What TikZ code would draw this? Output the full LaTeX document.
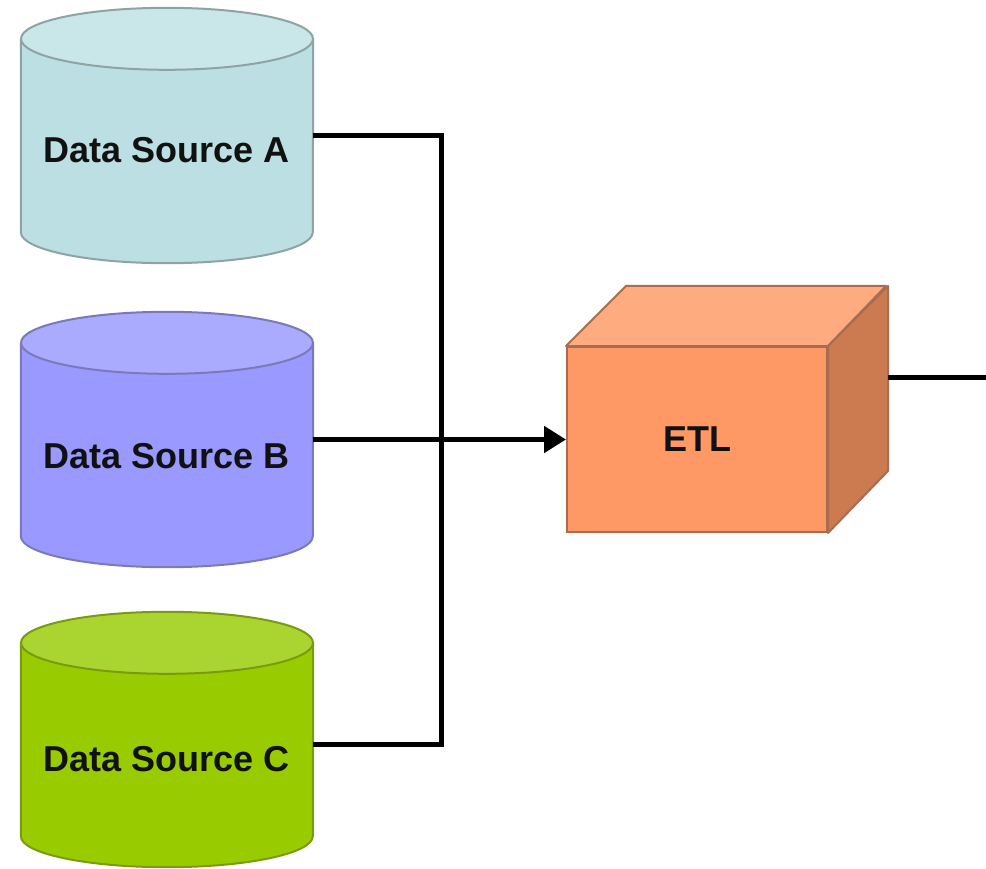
\documentclass[tikz,border=0pt]{standalone}
\usepackage{fontspec}
\setmainfont{Liberation Sans}
\usetikzlibrary{calc,arrows.meta,backgrounds}

% palette
\definecolor{cylAbody}{HTML}{BBDFE2}
\definecolor{cylAtop}{HTML}{C9E6E8}
\definecolor{cylAline}{HTML}{8FA3A4}
\definecolor{cylBbody}{HTML}{9999FF}
\definecolor{cylBtop}{HTML}{AAAAFF}
\definecolor{cylBline}{HTML}{7A7AB8}
\definecolor{cylCbody}{HTML}{99CC00}
\definecolor{cylCtop}{HTML}{AAD530}
\definecolor{cylCline}{HTML}{7A9A10}
\definecolor{etlfront}{HTML}{FE9966}
\definecolor{etltop}{HTML}{FFAB80}
\definecolor{etlside}{HTML}{CC7A50}
\definecolor{etlline}{HTML}{A86C50}
\definecolor{labeltext}{HTML}{111111}

\tikzset{
  dslabel/.style={font=\fontsize{36}{40}\selectfont\bfseries, text=labeltext,
    minimum width=292pt, minimum height=255pt, inner sep=0pt},
  etlbox/.style={font=\fontsize{36}{40}\selectfont\bfseries, text=labeltext,
    minimum width=260pt, minimum height=185pt, inner sep=0pt,
    fill=etlfront, draw=etlline, line width=2pt},
  wire/.style={line width=5pt, black, line join=miter},
}

% label text with its baseline set #1 below the node centre
\newcommand\droptext[2]{\raisebox{-#1}[0pt][0pt]{#2}}

% database cylinder behind a label node: #1 node, #2 body, #3 lid, #4 outline
\newcommand\drawdbcyl[4]{%
  \fill[#2] ($(#1.north west)+(0,31)$) -- ($(#1.south west)+(0,-31)$)
    arc[start angle=180, end angle=360, x radius=146pt, y radius=31pt]
    -- ($(#1.north east)+(0,31)$) -- cycle;
  \draw[#4, line width=2pt] ($(#1.north west)+(0,31)$) -- ($(#1.south west)+(0,-31)$)
    arc[start angle=180, end angle=360, x radius=146pt, y radius=31pt]
    -- ($(#1.north east)+(0,31)$);
  \filldraw[fill=#3, draw=#4, line width=2pt] ($(#1.north)+(0,31)$)
    ellipse[x radius=146pt, y radius=31pt];
}

\begin{document}
\begin{tikzpicture}[x=1pt, y=-1pt]
  \useasboundingbox (0,0) rectangle (986,869);

  % data sources
  \node[dslabel] (a) at (167,135.5) {\droptext{27.5pt}{Data Source A}};
  \node[dslabel] (b) at (167,439.5) {\droptext{28.5pt}{Data Source B}};
  \node[dslabel] (c) at (167,739.5) {\droptext{32pt}{Data Source C}};

  \begin{scope}[on background layer]
    \fill[white] (0,0) rectangle (986,869);
    \drawdbcyl{a}{cylAbody}{cylAtop}{cylAline}
    \drawdbcyl{b}{cylBbody}{cylBtop}{cylBline}
    \drawdbcyl{c}{cylCbody}{cylCtop}{cylCline}
  \end{scope}

  % ETL cube
  \node[etlbox] (etl) at (697,439.5) {ETL};
  \filldraw[fill=etltop, draw=etlline, line width=2pt, line join=round]
    (etl.north west) -- ++(60,-60) -- ++(260,0) -- (etl.north east) -- cycle;
  \filldraw[fill=etlside, draw=etlline, line width=2pt, line join=round]
    (etl.north east) -- ++(60,-60) -- ++(0,185) -- (etl.south east) -- cycle;

  % connectors
  \coordinate (bus) at (441,439.5);
  \coordinate (etlout) at ($(etl.east)+(60,-62)$);
  \coordinate (out) at (992,377.5);

  \draw[wire] (a.east) -| (bus) |- ($(c.east)+(0,5)$);
  \draw[wire, -{Triangle[length=22pt, width=26pt]}] (b.east) -- (etl.west);
  \draw[wire] (etlout) -- (out);
\end{tikzpicture}
\end{document}
